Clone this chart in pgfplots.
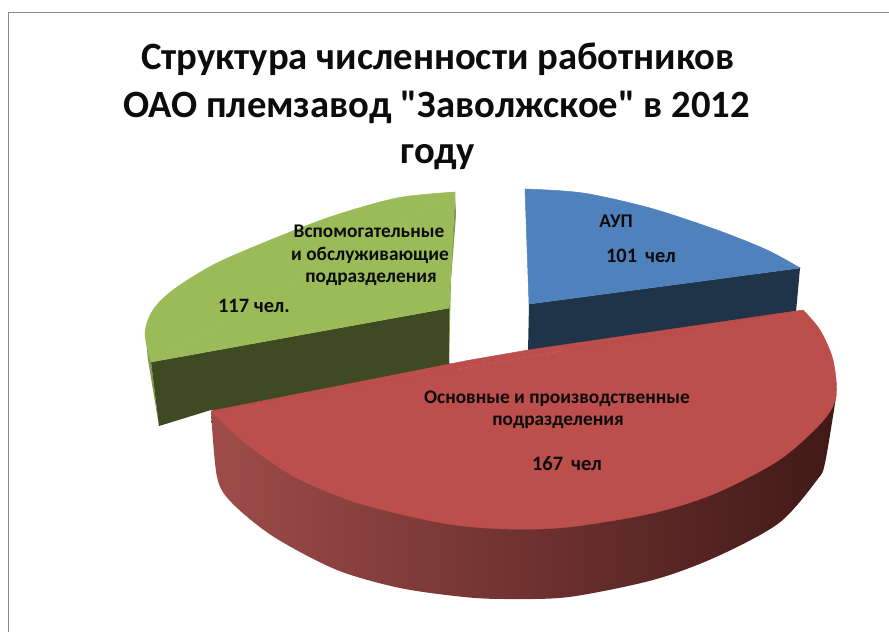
\documentclass[border=0pt]{standalone}
\usepackage{fontspec}
\setmainfont{Carlito}[Ligatures=TeXOff]
\usepackage{pgfplots}
\pgfplotsset{compat=1.18}
\definecolor{gt}{HTML}{9BBB59}
\definecolor{gd}{HTML}{3F4A23}
\definecolor{gs}{HTML}{7F9A48}
\definecolor{bt}{HTML}{4F81BD}
\definecolor{bd}{HTML}{1F3349}
\definecolor{rt}{HTML}{BC4E4B}
\definecolor{rl}{HTML}{9E4C49}
\definecolor{rm}{HTML}{672A28}
\definecolor{rr}{HTML}{401917}
\definecolor{fr}{HTML}{8C8C8C}
\definecolor{tx}{HTML}{0C0C0C}
\newcommand\tfont{\fontsize{38.8}{38.8}\selectfont\bfseries}
\newcommand\lfont{\fontsize{19.4}{19.4}\selectfont\bfseries}
\newcommand\nfont{\fontsize{20.5}{20.5}\selectfont\bfseries}
\begin{document}
\begin{tikzpicture}
\begin{axis}[
  scale only axis, width=889bp, height=632bp,
  xmin=0, xmax=889, ymin=0, ymax=632, y dir=reverse,
  hide axis, clip=true]
% page
\addplot[draw=none, fill=white] coordinates {(0,0) (889,0) (889,632) (0,632)};
% frame
\addplot[fr, line width=1.2pt] coordinates {(8.5,632) (8.5,12.5) (889,12.5)};
% green slice
\addplot[draw=none, fill=gs] coordinates {(145,330) (151,362) (159,426) (148,360)};
\addplot[draw=none, fill=gd] coordinates {(151,362) (449,308) (449,363) (480,385) (230,414) (211,410) (159,426)};
\addplot[draw=none, fill=gs] coordinates {(455,192) (456,215) (451,280) (449,363) (449,308)};
\addplot[draw=gt, line width=0.5pt, fill=gt] coordinates {(455,192) (151,362) (449,308) (455,192)};
\addplot[draw=gt, line width=0.5pt, fill=gt, smooth] coordinates {(455,192) (397,198) (330,217) (263,243) (213,265) (173,290) (153,310) (145,333) (151,362)};
% blue slice
\addplot[draw=none, fill=bd] coordinates {(529,304) (800,268) (796,312) (803,340) (528,352)};
\addplot[draw=bt, line width=0.5pt, fill=bt] coordinates {(525,189) (800,268) (529,304) (525,189)};
\addplot[draw=bt, line width=0.5pt, fill=bt, smooth] coordinates {(525,189) (583,193) (650,208) (717,230) (767,250) (800,268)};
% red slice
\addplot[draw=none, left color=rl, middle color=rm, right color=rr, smooth] coordinates {
 (211,411) (217,477) (232,503) (274,537) (337,570) (400,588) (464,597) (506,599) (569,597) (653,580) (716,557) (779,523) (817,480) (825,463) (836,397)};
\addplot[draw=rt, line width=0.4pt, fill=rt] coordinates {(211,411) (470,360) (528,350) (803,310) (211,411)};
\addplot[draw=rt, line width=0.4pt, fill=rt, smooth] coordinates {
 (803,310) (820,330) (833,360) (836,397) (821,423) (779,460) (716,493) (653,513) (569,527) (506,529) (442,523) (358,503) (295,477) (245,443) (211,411)};
% title
\node[tx, font=\tfont, anchor=base] at (axis cs:438,70) {Структура численности работников};
\node[tx, font=\tfont, anchor=base] at (axis cs:437,117) {ОАО племзавод "Заволжское" в 2012};
\node[tx, font=\tfont, anchor=base] at (axis cs:438,163) {году};
% labels
\node[tx, font=\lfont, anchor=base] at (axis cs:369,237) {Вспомогательные};
\node[tx, font=\lfont, anchor=base] at (axis cs:370,260) {и обслуживающие};
\node[tx, font=\lfont, anchor=base] at (axis cs:371,282) {подразделения};
\node[tx, font=\nfont, anchor=base] at (axis cs:254,312) {117 чел.};
\node[tx, font=\lfont, anchor=base] at (axis cs:616,227) {АУП};
\node[tx, font=\nfont, anchor=base] at (axis cs:641,262) {101\, чел};
\node[tx, font=\lfont, anchor=base] at (axis cs:557,403) {Основные и производственные};
\node[tx, font=\lfont, anchor=base] at (axis cs:558,425) {подразделения};
\node[tx, font=\nfont, anchor=base] at (axis cs:567,470) {167\, чел};
\end{axis}
\end{tikzpicture}
\end{document}
